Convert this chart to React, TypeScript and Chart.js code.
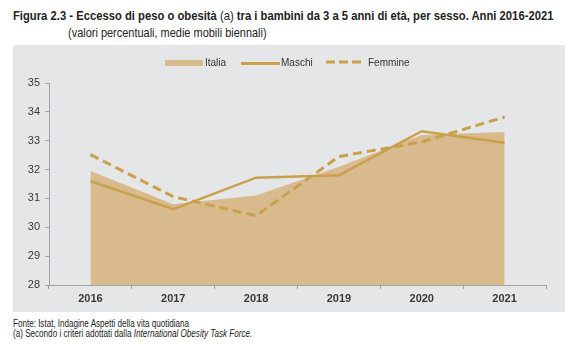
import React, { useEffect, useLayoutEffect, useRef } from "react";
import { Chart, registerables } from "chart.js";

Chart.register(...registerables);

const years = ["2016", "2017", "2018", "2019", "2020", "2021"];
const italia = [31.95, 30.8, 31.1, 32.1, 33.2, 33.3];
const maschi = [31.6, 30.63, 31.72, 31.8, 33.33, 32.93];
const femmine = [32.52, 31.06, 30.4, 32.45, 32.96, 33.82];
const yTicks = [28, 29, 30, 31, 32, 33, 34, 35];

const FILL = "#d8ba8c";
const LINE = "#c9a04c";
const SANS = "Liberation Sans, Arial, sans-serif";

function Narrow(props: { left: number; top: number; width: number; size: number; bold?: boolean; children: any }) {
  const r = useRef<HTMLDivElement>(null);
  useLayoutEffect(() => {
    const el = r.current!;
    el.style.transform = "none";
    const w = el.offsetWidth;
    el.style.transform = `scaleX(${props.width / w})`;
  }, []);
  return (
    <div
      ref={r}
      style={{
        position: "absolute",
        left: props.left,
        top: props.top,
        fontSize: props.size,
        lineHeight: `${Math.round(props.size * 1.2)}px`,
        fontWeight: props.bold ? "bold" : "normal",
        color: "#222",
        whiteSpace: "nowrap",
        transformOrigin: "0 0",
        fontFamily: SANS,
      }}
    >
      {props.children}
    </div>
  );
}

export default function App() {
  const ref = useRef<HTMLCanvasElement>(null);
  useEffect(() => {
    const chart = new Chart(ref.current!, {
      type: "line",
      data: {
        labels: years,
        datasets: [
          {
            label: "Italia",
            data: italia,
            fill: "start",
            backgroundColor: FILL,
            borderWidth: 0,
            borderColor: FILL,
            pointRadius: 0,
            tension: 0,
            order: 3,
          },
          {
            label: "Maschi",
            data: maschi,
            fill: false,
            borderColor: LINE,
            borderWidth: 2.5,
            pointRadius: 0,
            tension: 0,
            order: 2,
          },
          {
            label: "Femmine",
            data: femmine,
            fill: false,
            borderColor: LINE,
            borderWidth: 3,
            borderDash: [9, 5],
            pointRadius: 0,
            tension: 0,
            order: 1,
          },
        ],
      },
      options: {
        animation: false,
        responsive: false,
        maintainAspectRatio: false,
        layout: { padding: { left: 0, right: 19, top: 38, bottom: 0 } },
        plugins: { legend: { display: false }, tooltip: { enabled: false } },
        scales: {
          x: {
            offset: true,
            grid: {
              offset: true,
              drawOnChartArea: false,
              tickLength: 4,
              color: "#a0a4a8",
            },
            border: { color: "#a0a4a8", width: 1 },
            ticks: {
              color: "#3a3a3a",
              padding: 3,
              font: { family: SANS, size: 11, weight: "bold" },
            },
            afterFit: (s: any) => {
              s.height = 27;
            },
          },
          y: {
            min: 28,
            max: 35,
            afterBuildTicks: (s: any) => {
              s.ticks = yTicks.map((v) => ({ value: v }));
            },
            grid: { drawOnChartArea: false, tickLength: 4, color: "#a0a4a8" },
            border: { color: "#a0a4a8", width: 1 },
            ticks: {
              color: "#3a3a3a",
              padding: 5,
              font: { family: SANS, size: 11 },
            },
            afterFit: (s: any) => {
              s.width = 36;
            },
          },
        },
      },
    });
    return () => chart.destroy();
  }, []);

  return (
    <div style={{ position: "absolute", left: 0, top: 0, width: 580, height: 351, background: "#fff", overflow: "hidden", fontFamily: SANS }}>
      <Narrow left={13} top={8} width={540} size={13} bold>
        Figura 2.3 - Eccesso di peso o obesità <span style={{ fontWeight: "normal" }}>(a)</span> tra i bambini da 3 a 5 anni di età, per sesso. Anni 2016-2021
      </Narrow>
      <Narrow left={68} top={25} width={199} size={13}>
        (valori percentuali, medie mobili biennali)
      </Narrow>
      <div style={{ position: "absolute", left: 13, top: 45, width: 552, height: 267, background: "#e5e6e8" }}>
        <canvas ref={ref} width={552} height={267} style={{ display: "block" }} />
        <div style={{ position: "absolute", left: 152, top: 15, width: 38, height: 6, background: FILL }} />
        <div style={{ position: "absolute", left: 192, top: 11, fontSize: 10, lineHeight: "13px", color: "#333" }}>Italia</div>
        <div style={{ position: "absolute", left: 228, top: 17, width: 39, height: 0, borderTop: `3px solid ${LINE}` }} />
        <div style={{ position: "absolute", left: 268, top: 11, fontSize: 10, lineHeight: "13px", color: "#333" }}>Maschi</div>
        <svg style={{ position: "absolute", left: 313, top: 14 }} width={36} height={6}>
          <line x1={0} y1={3} x2={36} y2={3} stroke={LINE} strokeWidth={3} strokeDasharray="9 4" />
        </svg>
        <div style={{ position: "absolute", left: 355, top: 11, fontSize: 10, lineHeight: "13px", color: "#333" }}>Femmine</div>
      </div>
      <Narrow left={13} top={318} width={176} size={10}>
        Fonte: Istat, Indagine Aspetti della vita quotidiana
      </Narrow>
      <Narrow left={13} top={328} width={239} size={10}>
        (a) Secondo i criteri adottati dalla <i>International Obesity Task Force.</i>
      </Narrow>
    </div>
  );
}
